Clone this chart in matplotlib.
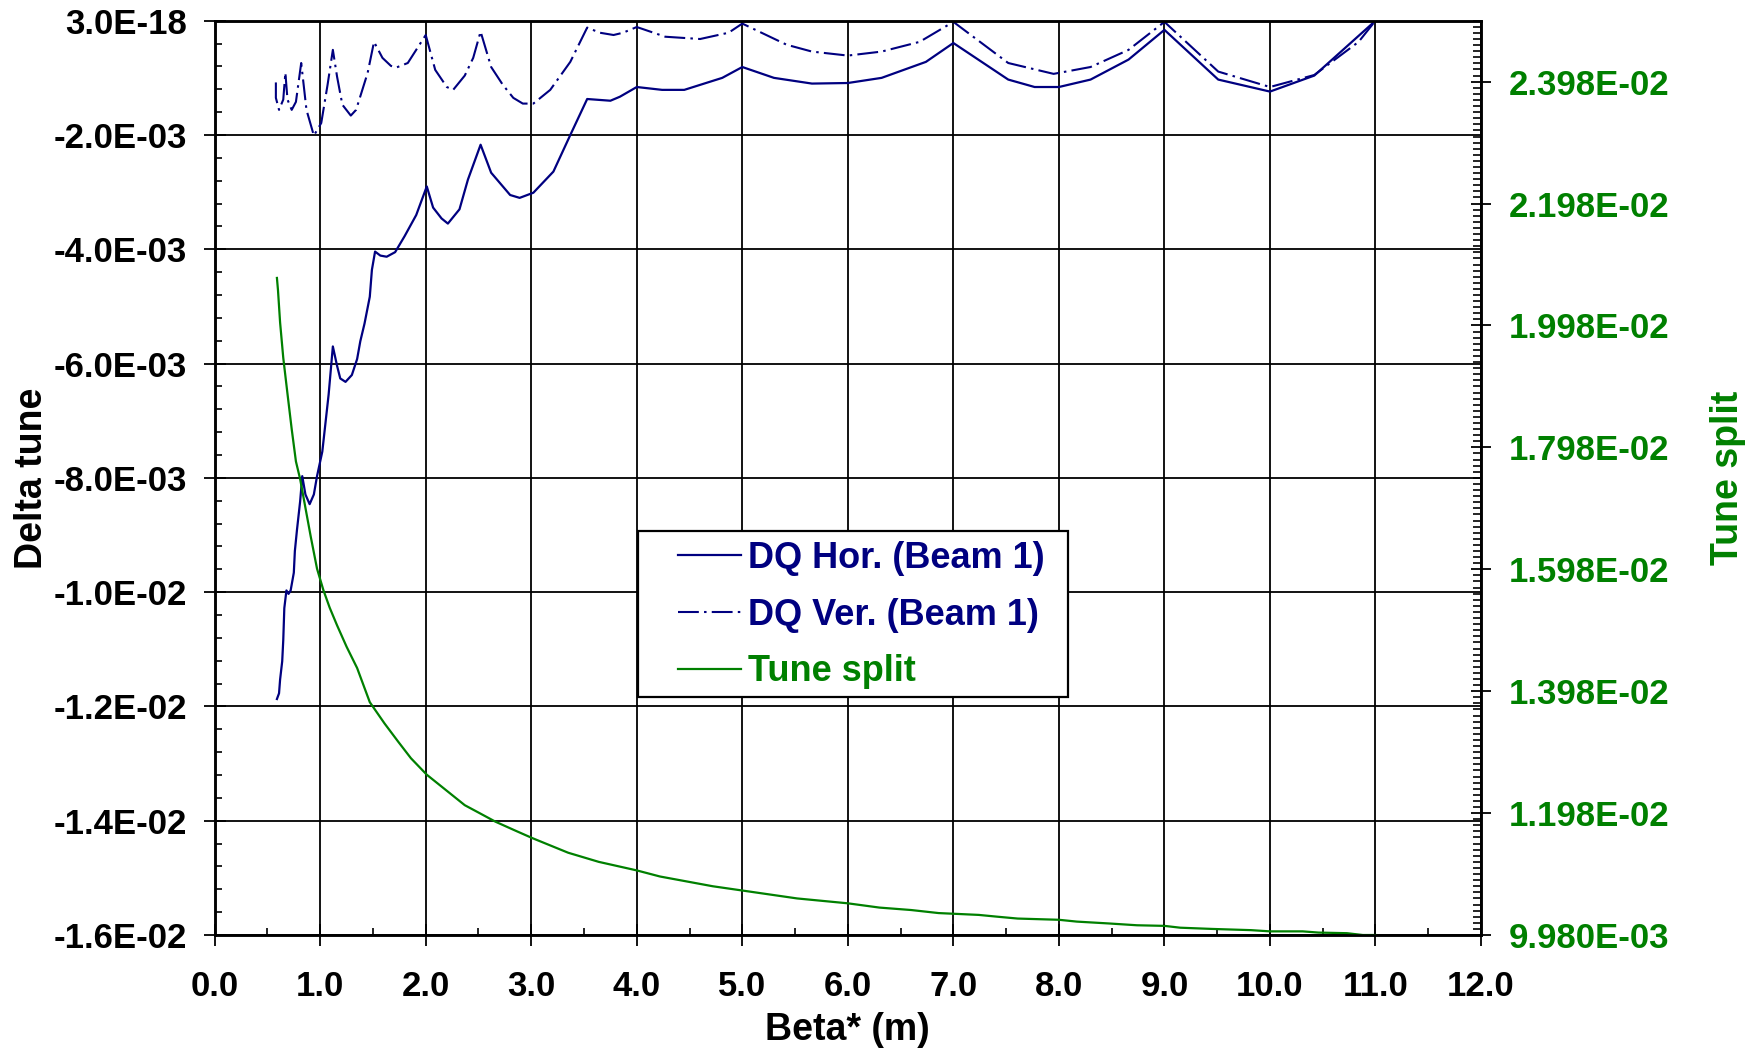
import matplotlib
matplotlib.use('Agg')
import matplotlib.pyplot as plt
import numpy as np
from matplotlib.ticker import MultipleLocator, FixedLocator
from matplotlib.patches import Rectangle

plt.rcParams['font.family'] = ['Liberation Sans', 'DejaVu Sans']
plt.rcParams['font.weight'] = 'bold'

navy = '#000080'
green = '#008000'

# DQ Hor. (Beam 1), delta tune in units of 1E-03
beta_hor = [0.59, 0.61, 0.62, 0.64, 0.65, 0.66, 0.68, 0.70, 0.72, 0.75, 0.76, 0.78,
            0.81, 0.83, 0.86, 0.90, 0.94, 0.97, 1.02, 1.05, 1.08, 1.12, 1.16, 1.19,
            1.24, 1.30, 1.35, 1.38, 1.42, 1.47, 1.49, 1.52, 1.57, 1.63, 1.71, 1.80,
            1.91, 2.01, 2.07, 2.15, 2.21, 2.32, 2.40, 2.52, 2.62, 2.80, 2.89, 3.02,
            3.21, 3.37, 3.53, 3.75, 3.84, 4.00, 4.24, 4.45, 4.81, 5.00, 5.30, 5.66,
            6.00, 6.32, 6.74, 7.00, 7.52, 7.77, 8.00, 8.30, 8.66, 9.00, 9.51, 10.00,
            10.42, 11.00]
dq_hor = [-11.87, -11.77, -11.53, -11.21, -10.84, -10.28, -9.97, -10.03, -9.97, -9.66, -9.28, -8.91,
          -8.41, -7.97, -8.29, -8.46, -8.29, -7.97, -7.54, -7.04, -6.54, -5.70, -6.04, -6.26,
          -6.32, -6.20, -5.92, -5.61, -5.30, -4.83, -4.36, -4.04, -4.11, -4.13, -4.05, -3.77,
          -3.40, -2.90, -3.27, -3.46, -3.55, -3.30, -2.78, -2.17, -2.66, -3.05, -3.10, -3.01,
          -2.64, -2.00, -1.37, -1.40, -1.33, -1.16, -1.21, -1.21, -1.00, -0.81, -1.00, -1.10,
          -1.09, -1.00, -0.72, -0.39, -1.03, -1.16, -1.16, -1.03, -0.68, -0.16, -1.03, -1.24,
          -0.96, 0.00]

# DQ Ver. (Beam 1), delta tune in units of 1E-03
beta_ver = [0.58, 0.58, 0.61, 0.65, 0.67, 0.69, 0.73, 0.77, 0.82, 0.87, 0.94, 1.01,
            1.07, 1.12, 1.16, 1.21, 1.29, 1.34, 1.45, 1.51, 1.59, 1.67, 1.72, 1.83,
            2.00, 2.09, 2.20, 2.26, 2.37, 2.45, 2.52, 2.62, 2.73, 2.83, 2.92, 3.02,
            3.18, 3.37, 3.53, 3.65, 3.78, 3.87, 4.00, 4.27, 4.60, 4.87, 5.00, 5.42,
            5.66, 6.00, 6.32, 6.68, 7.00, 7.52, 7.95, 8.30, 8.66, 9.00, 9.51, 10.00,
            10.42, 10.84, 11.00]
dq_ver = [-1.08, -1.35, -1.56, -1.38, -0.91, -1.38, -1.56, -1.42, -0.74, -1.56, -2.01, -1.79,
          -1.12, -0.51, -0.98, -1.47, -1.66, -1.56, -0.91, -0.37, -0.65, -0.79, -0.82, -0.74,
          -0.25, -0.86, -1.16, -1.21, -0.96, -0.65, -0.19, -0.81, -1.12, -1.35, -1.45, -1.45,
          -1.21, -0.72, -0.12, -0.21, -0.25, -0.21, -0.11, -0.28, -0.32, -0.21, -0.05, -0.42,
          -0.54, -0.61, -0.54, -0.37, -0.02, -0.74, -0.93, -0.81, -0.51, -0.02, -0.89, -1.16,
          -0.95, -0.37, 0.00]

# Tune split in units of 1E-03
beta_split = [0.59, 0.60, 0.62, 0.65, 0.69, 0.73, 0.77, 0.81, 0.86, 0.91, 0.97, 1.03,
              1.09, 1.16, 1.25, 1.35, 1.47, 1.61, 1.74, 1.86, 2.01, 2.19, 2.37,
              2.51, 2.66, 2.84, 3.01, 3.35, 3.64, 4.00, 4.22, 4.47, 4.72, 5.00, 5.52,
              6.00, 6.30, 6.60, 6.86, 7.24, 7.42, 7.61, 8.00, 8.17, 8.47, 8.74, 9.00,
              9.15, 9.45, 9.82, 10.00, 10.31, 10.46, 10.73, 10.88, 11.00]
tune_split = [20.76, 20.56, 20.03, 19.45, 18.86, 18.28, 17.75, 17.46, 16.99, 16.52, 15.99, 15.64,
              15.35, 15.06, 14.71, 14.36, 13.80, 13.45, 13.15, 12.88, 12.61, 12.36, 12.11,
              11.98, 11.84, 11.70, 11.57, 11.33, 11.18, 11.04, 10.94, 10.86, 10.78, 10.71, 10.58,
              10.50, 10.43, 10.39, 10.34, 10.31, 10.28, 10.25, 10.23, 10.20, 10.17, 10.14, 10.13,
              10.10, 10.08, 10.06, 10.04, 10.04, 10.02, 10.01, 9.98, 9.98]

x_ticks = np.arange(0, 13, 1)
x_ticklabels = ['%.1f' % v for v in x_ticks]
left_ticks = np.arange(-0.016, 0.0001, 0.002)
left_ticklabels = ['-1.6E-02', '-1.4E-02', '-1.2E-02', '-1.0E-02', '-8.0E-03', '-6.0E-03',
                   '-4.0E-03', '-2.0E-03', '3.0E-18']
right_ticks = 9.98e-3 + 2e-3 * np.arange(8)
right_ticklabels = ['9.980E-03', '1.198E-02', '1.398E-02', '1.598E-02', '1.798E-02',
                    '1.998E-02', '2.198E-02', '2.398E-02']

fig = plt.figure(figsize=(17.61, 10.52), dpi=100)
ax = fig.add_axes([0.1219, 0.1112, 0.7191, 0.8691])
ax2 = ax.twinx()

h1, = ax.plot(beta_hor, np.array(dq_hor) * 1e-3, color=navy, lw=1.6, label='DQ Hor. (Beam 1)')
h2, = ax.plot(beta_ver, np.array(dq_ver) * 1e-3, color=navy, lw=1.5,
              dashes=(10, 2.5, 1.2, 2.5), label='DQ Ver. (Beam 1)')
h3, = ax2.plot(beta_split, np.array(tune_split) * 1e-3, color=green, lw=1.6, label='Tune split')

ax.set_xlim(0, 12)
ax.set_ylim(-0.016, 0)
ax2.set_ylim(9.98e-3, 2.498e-2)

ax.set_xticks(x_ticks)
ax.set_xticklabels(x_ticklabels)
ax.xaxis.set_minor_locator(MultipleLocator(0.5))
ax.set_yticks(left_ticks)
ax.set_yticklabels(left_ticklabels)
ax.yaxis.set_minor_locator(MultipleLocator(4e-4))
ax2.set_yticks(right_ticks)
ax2.set_yticklabels(right_ticklabels)
ax2.yaxis.set_minor_locator(FixedLocator(np.arange(9.98e-3, 2.5e-2, 1e-4)))

ax.grid(True, which='major', color='black', lw=1.3)
ax.set_axisbelow(True)

ax.tick_params(axis='both', which='major', direction='inout', length=16, width=1.3,
               labelsize=25, pad=12)
ax.tick_params(axis='x', which='major', pad=17)
ax.tick_params(axis='both', which='minor', direction='in', length=5, width=1.2)
ax2.tick_params(axis='y', which='major', direction='inout', length=14, width=1.3,
                labelsize=25, labelcolor=green, pad=13)
ax2.tick_params(axis='y', which='minor', direction='in', length=6, width=1.2)

for a in (ax, ax2):
    for s in a.spines.values():
        s.set_linewidth(1.8)

ax.set_xlabel('Beta* (m)', fontsize=27, fontweight='bold', va='center')
ax.xaxis.set_label_coords(0.5, -0.104)
ax.set_ylabel('Delta tune', fontsize=27, fontweight='bold', va='center')
ax.yaxis.set_label_coords(-0.144, 0.5)
ax2.set_ylabel('Tune split', fontsize=27, fontweight='bold', color=green, va='center', rotation=90)
ax2.yaxis.set_label_coords(1.1947, 0.5)

box = Rectangle((0.3343, 0.2603), 0.3395, 0.1816, transform=ax2.transAxes,
                facecolor='white', edgecolor='black', lw=1.6, zorder=5)
ax2.add_patch(box)
leg = ax2.legend(handles=[h1, h2, h3], loc='center left', bbox_to_anchor=(0.3513, 0.35),
                 frameon=False, fontsize=26, borderpad=0, handlelength=1.75,
                 handletextpad=0.2, labelspacing=0.6)
leg.set_zorder(6)
for t, c in zip(leg.get_texts(), [navy, navy, green]):
    t.set_color(c)

fig.savefig('out.png', dpi=100)
